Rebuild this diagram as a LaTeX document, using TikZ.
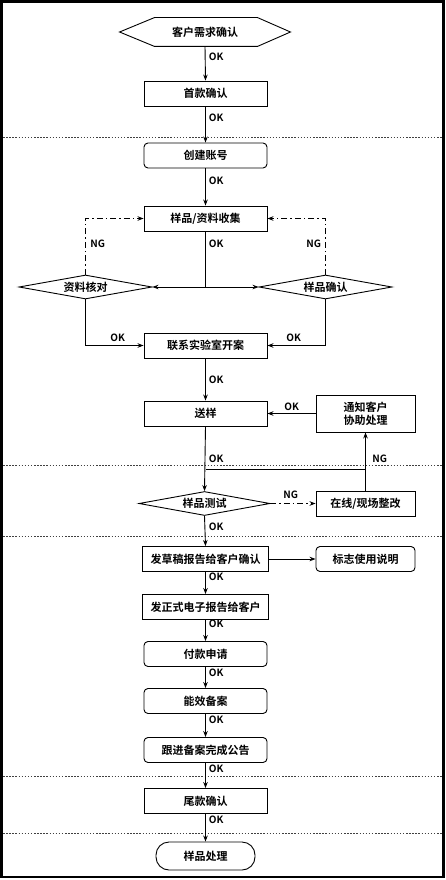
\documentclass[tikz,border=0pt]{standalone}
\usepackage{fontspec}
\setmainfont{Noto Sans CJK SC}[BoldFont={Noto Sans CJK SC Bold}]
\usetikzlibrary{shapes.geometric,arrows.meta}
\begin{document}
\begin{tikzpicture}[x=1pt,y=-1pt,
  font=\fontsize{11}{13}\selectfont\bfseries,
  line width=0.9pt,
  box/.style={draw, minimum width=123pt, minimum height=25pt, inner sep=0pt},
  rbox/.style={box, rounded corners=4pt},
  sbox/.style={draw, minimum width=99pt, minimum height=25pt, inner sep=0pt, align=center},
  dia/.style={draw, diamond, shape aspect=5.5, minimum width=133pt, minimum height=24pt, inner sep=0pt},
  lbl/.style={font=\fontsize{10}{12}\selectfont\bfseries, inner sep=0pt, anchor=west},
  arr/.style={-{Stealth[length=6pt,width=4.5pt]}},
  dd/.style={dash pattern=on 6pt off 3pt on 1.5pt off 3pt},
  sepline/.style={line width=1pt, black!75, dash pattern=on 1.5pt off 1.6pt}
]
\useasboundingbox (0,0) rectangle (445,880);
\fill[white] (0,0) rectangle (445,880);

% separators
\foreach \yy in {137,465,536,776,833}
  \draw[sepline] (3,\yy) -- (442,\yy);

% start hexagon
\node[minimum width=170pt, minimum height=28pt, inner sep=0pt] (start) at (205,32) {客户需求确认};
\draw (start.west) -- ([xshift=35pt]start.north west) -- ([xshift=-33pt]start.north east)
  -- (start.east) -- ([xshift=-33pt]start.south east) -- ([xshift=35pt]start.south west) -- cycle;

\node[box] (n1) at (205.5,93.5) {首款确认};
\node[rbox] (n2) at (205.5,155.5) {创建账号};
\node[box] (n3) at (205.5,218.5) {样品/资料收集};
\node[dia] (dL) at (85.5,287) {资料核对};
\node[dia] (dR) at (325.5,287) {样品确认};
\node[box] (n4) at (205.5,345.5) {联系实验室开案};
\node[box] (n5) at (205.5,413.5) {送样};
\node[sbox, minimum height=37pt] (nt) at (365.5,413.5) {通知客户\\协助处理};
\node[dia, minimum width=131pt] (dT) at (204.5,503.5) {样品测试};
\node[sbox] (nz) at (365.5,503.5) {在线/现场整改};
\node[box, minimum width=126pt] (n6) at (205.5,559) {发草稿报告给客户确认};
\node[sbox, rounded corners=4pt] (nb) at (365.5,559) {标志使用说明};
\node[box, minimum width=126pt] (n7) at (205.5,607) {发正式电子报告给客户};
\node[rbox] (n8) at (205.5,654) {付款申请};
\node[rbox] (n9) at (205.5,701) {能效备案};
\node[rbox] (n10) at (205.5,750) {跟进备案完成公告};
\node[box] (n11) at (205.5,801) {尾款确认};
\node[draw, minimum width=99pt, minimum height=28pt, inner sep=0pt, rounded corners=13pt] (n12) at (205.5,856) {样品处理};

% connectors
\draw[arr] (start.south) -- (n1.north);
\draw[arr] (n1) -- (n2);
\draw[arr] (n2) -- (n3);
\coordinate (j1) at (205.5,287);
\draw (n3.south) -- (j1);
\draw[arr] (j1) -- (dL.east);
\draw[arr] (j1) -- (dR.west);
\draw[arr, dd] (dL.north) |- (n3.west);
\draw[arr, dd] (dR.north) |- (n3.east);
\draw[arr] (dL.south) |- (n4.west);
\draw[arr] (dR.south) |- (n4.east);
\draw[arr] (n4) -- (n5);
\draw[arr] (nt.west) -- (n5.east);
\draw[arr] (n5.south) -- (dT.north);
\draw[arr] (nz.north) -- (nt.south);
\coordinate (j2) at (365.5,469);
\coordinate (j3) at (205.5,469);
\draw (j2) -- (j3);
\draw[arr, dd] (dT.east) -- (nz.west);
\draw[arr] (dT.south) -- (n6.north);
\draw[arr] (n6.east) -- (nb.west);
\draw[arr] (n6) -- (n7);
\draw[arr] (n7) -- (n8);
\draw[arr] (n8) -- (n9);
\draw[arr] (n9) -- (n10);
\draw[arr] (n10) -- (n11);
\draw[arr] (n11) -- (n12);

% labels
\node[lbl] (l1) at (208.5,57) {OK};
\node[lbl] (l2) at (208.5,118) {OK};
\node[lbl] (l3) at (208.5,181) {OK};
\node[lbl] (l4) at (208.5,244) {OK};
\node[lbl] (l5) at (90,244) {NG};
\node[lbl] (l6) at (306,244) {NG};
\node[lbl] (l7) at (110,338) {OK};
\node[lbl] (l8) at (286,338) {OK};
\node[lbl] (l9) at (208.5,380) {OK};
\node[lbl] (l10) at (284,407) {OK};
\node[lbl] (l11) at (208.5,459) {OK};
\node[lbl] (l12) at (372,459) {NG};
\node[lbl] (l13) at (283,495) {NG};
\node[lbl] (l14) at (208.5,527) {OK};
\node[lbl] (l15) at (208.5,577) {OK};
\node[lbl] (l16) at (208.5,624) {OK};
\node[lbl] (l17) at (208.5,673) {OK};
\node[lbl] (l18) at (208.5,720) {OK};
\node[lbl] (l19) at (208.5,769) {OK};
\node[lbl] (l20) at (208.5,820) {OK};

% frame
\draw[line width=2.5pt] (1.3,1.5) rectangle (443.5,877);
\end{tikzpicture}
\end{document}
